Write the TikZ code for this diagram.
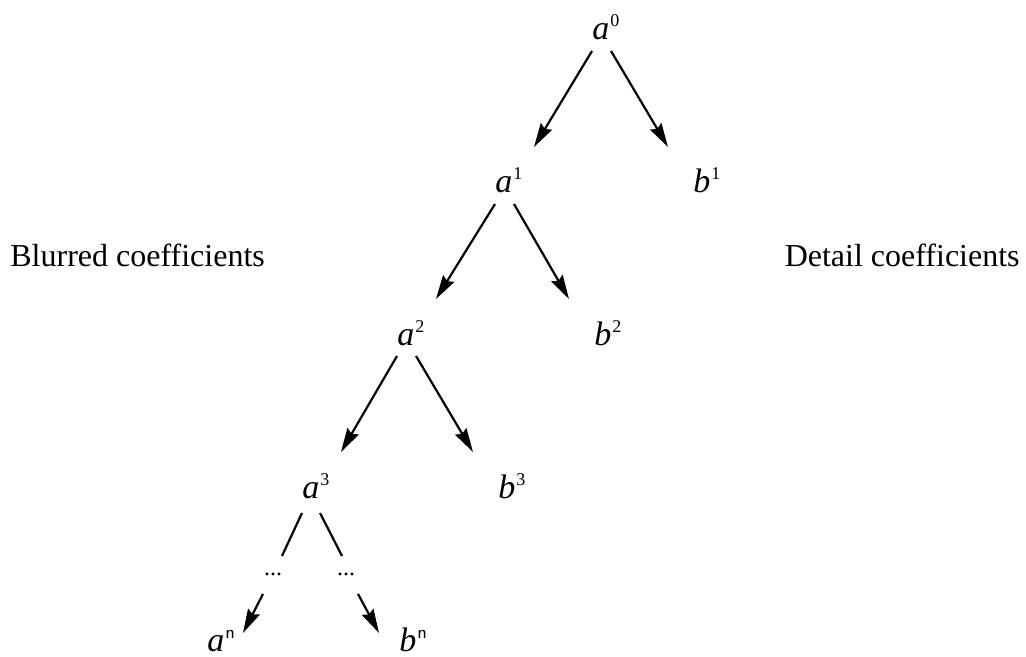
\documentclass[tikz,border=0pt]{standalone}
\usepackage{fontspec}
\setmainfont{Liberation Serif}
\usetikzlibrary{arrows.meta}
\newcommand{\coef}[2]{\textit{#1}\kern0.5pt\raisebox{6.5pt}{\fontsize{9}{9}\selectfont #2}}

\begin{document}
\begin{tikzpicture}[x=0.5pt,y=-0.5pt,
	coefnode/.style={inner sep=0pt,anchor=base west,font=\fontsize{17}{19}\selectfont},
	dotsnode/.style={inner sep=0pt,anchor=base,font=\fontsize{12}{14}\selectfont},
	sidelabel/.style={inner sep=0pt,font=\fontsize{16}{18}\selectfont},
	arr/.style={line width=1.1pt,-{Stealth[length=12pt,width=6.5pt,inset=1.5pt]}},
	link/.style={line width=1.1pt}]
				\useasboundingbox (0,0) rectangle (1026,657);
				% coefficients
				\node[coefnode] (a0) at (592,40) {\coef{a}{0}};
				\node[coefnode] (a1) at (495,193) {\coef{a}{1}};
				\node[coefnode] (b1) at (693,193) {\coef{b}{1}};
				\node[coefnode] (a2) at (397,345) {\coef{a}{2}};
				\node[coefnode] (b2) at (594,345) {\coef{b}{2}};
				\node[coefnode] (a3) at (302,498) {\coef{a}{3}};
				\node[coefnode] (b3) at (498,498) {\coef{b}{3}};
				\node[dotsnode] (dl) at (273,575) {...};
				\node[dotsnode] (dr) at (346,575) {...};
				\node[coefnode] (an) at (207,651) {\coef{a}{\textsf{n}}};
				\node[coefnode] (bn) at (399,651) {\coef{b}{\textsf{n}}};
				% side labels
				\node[sidelabel,anchor=base west] (blur) at (10,267) {Blurred coefficients};
				\node[sidelabel,anchor=base east] (detail) at (1020,267) {Detail coefficients};
				% arrows
				\foreach \p/\c in {a0/a1,a1/a2,a2/a3}
				\draw[arr] ([shift={(0,11)}]\p.base west) -- ([shift={(39,-46)}]\c.base west);
				\foreach \p/\c in {a0/b1,a1/b2,a2/b3}
				\draw[arr] ([shift={(19,11)}]\p.base west) -- ([shift={(-25,-46)}]\c.base west);
				\draw[link] ([shift={(0,15)}]a3.base west) -- ([shift={(9,-18)}]dl.center);
				\draw[link] ([shift={(18,15)}]a3.base west) -- ([shift={(-4,-18)}]dr.center);
				\draw[arr] ([shift={(-10,20)}]dl.center) -- ([shift={(36,-18)}]an.base west);
				\draw[arr] ([shift={(12,20)}]dr.center) -- ([shift={(-20,-18)}]bn.base west);
			\end{tikzpicture}
\end{document}
